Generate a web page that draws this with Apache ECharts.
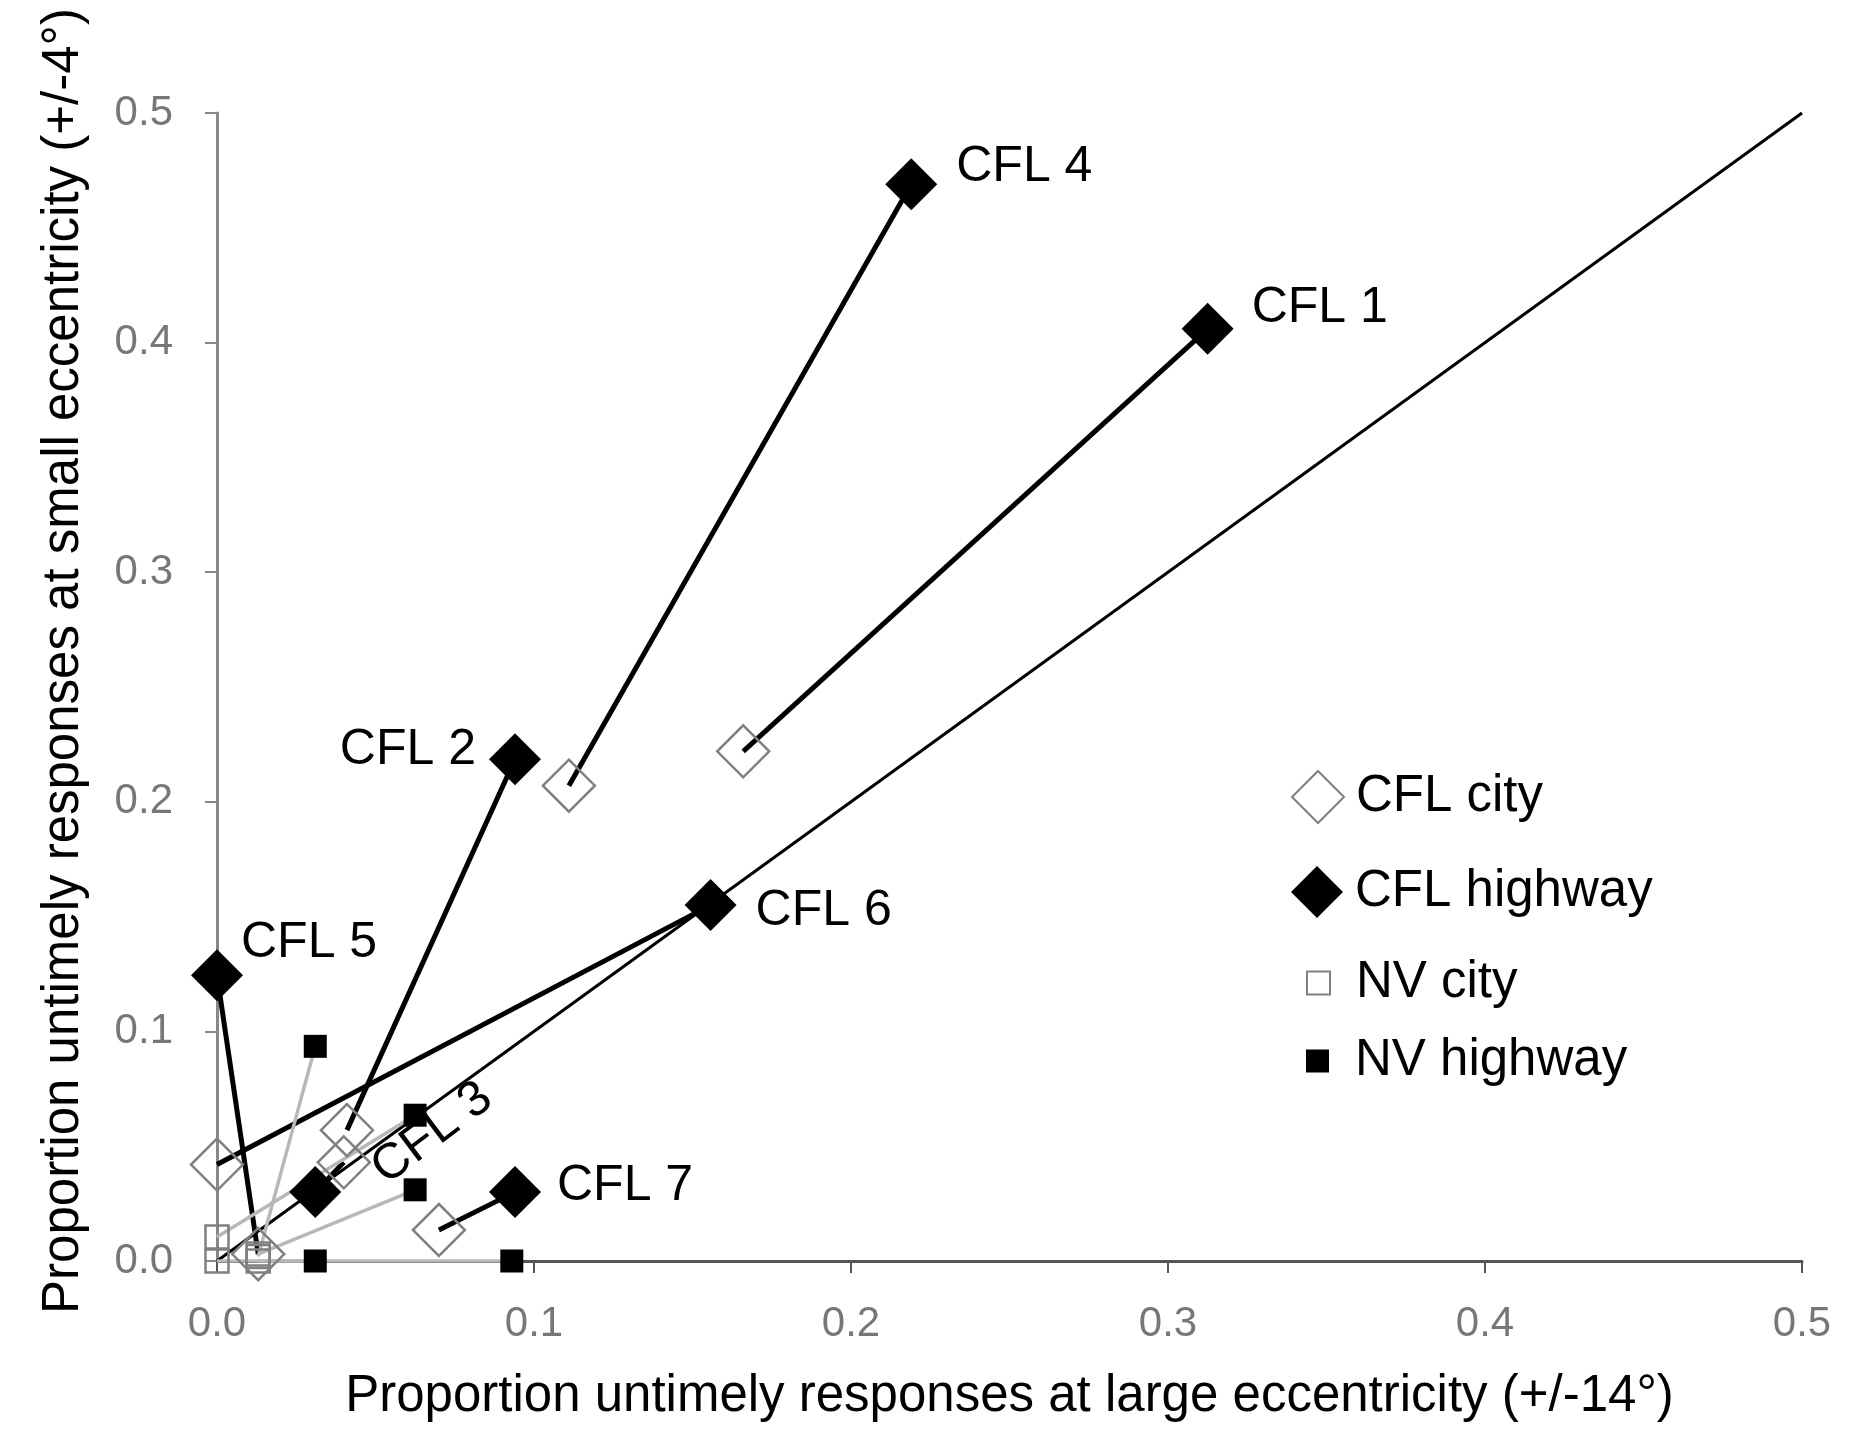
<!DOCTYPE html>
<html>
<head>
<meta charset="utf-8">
<script src="https://cdn.jsdelivr.net/npm/echarts@6/dist/echarts.min.js"></script>
<style>
  html, body { margin: 0; padding: 0; background: #fff; }
  #chart { width: 1860px; height: 1437px; }
</style>
</head>
<body>
<div id="chart"></div>
<script>
// CFL subjects: [large ecc, small ecc] for city and highway drives
const cflNames = ['CFL 1', 'CFL 2', 'CFL 3', 'CFL 4', 'CFL 5', 'CFL 6', 'CFL 7'];
const cflCity = [[0.166, 0.222], [0.041, 0.057], [0.040, 0.043], [0.111, 0.207], [0.013, 0.003], [0.0, 0.042], [0.070, 0.0135]];
const cflHighway = [[0.3125, 0.406], [0.094, 0.2185], [0.031, 0.030], [0.219, 0.469], [0.0, 0.1245], [0.1557, 0.155], [0.094, 0.030]];

// NV (normal vision) subjects
const nvCity = [[0.0, 0.0], [0.013, 0.0], [0.013, 0.002], [0.0, 0.0105], [0.013, 0.003]];
const nvHighway = [[0.093, 0.0], [0.031, 0.0], [0.031, 0.0935], [0.0625, 0.0635], [0.0625, 0.031]];

// identity line and axis ticks
const identity = [[0, 0], [0.5, 0.5]];
const axisMin = 0;
const axisMax = 0.5;
const axisStep = 0.1;

const seriesNames = ['CFL city', 'CFL highway', 'NV city', 'NV highway'];

const chart = echarts.init(document.getElementById('chart'));

const txtFont = 'Liberation Sans, Arial, sans-serif';
const narrowFont = 'Liberation Sans Narrow, Arial Narrow, Liberation Sans, sans-serif';

// where each CFL label sits relative to its highway marker
const labelPlace = {
  'CFL 1': { position: 'right', offset: [18, -21] },
  'CFL 2': { position: 'left', offset: [-13, -9] },
  'CFL 3': { position: 'right', offset: [40, 8], rotate: 37 },
  'CFL 4': { position: 'right', offset: [19, -17] },
  'CFL 5': { position: 'right', offset: [-2, -32] },
  'CFL 6': { position: 'right', offset: [19, 6] },
  'CFL 7': { position: 'right', offset: [16, -6] }
};

const pairLines = [];
cflNames.forEach((name, i) => {
  pairLines.push({
    type: 'line',
    data: [cflCity[i], cflHighway[i]],
    symbol: 'none',
    silent: true,
    z: 2,
    lineStyle: { color: '#000', width: 5 }
  });
});
nvCity.forEach((p, i) => {
  pairLines.push({
    type: 'line',
    data: [p, nvHighway[i]],
    symbol: 'none',
    silent: true,
    z: 2,
    lineStyle: { color: '#b8b8b8', width: 3.5 }
  });
});

const legendTops = [765, 861, 952, 1030];
const legendIcon = [52, 52, 23, 23];
const legends = seriesNames.map((n, i) => ({
  data: [n],
  left: legendIcon[i] > 30 ? 1286 : 1301,
  top: legendTops[i],
  itemWidth: legendIcon[i],
  itemHeight: legendIcon[i],
  selectedMode: false,
  textStyle: {
    fontFamily: txtFont,
    fontSize: 51,
    lineHeight: 52,
    color: '#000',
    padding: [0, 0, 0, legendIcon[i] > 30 ? 7 : 21]
  }
}));

const option = {
  animation: false,
  backgroundColor: '#fff',
  legend: legends,
  grid: { left: 217, right: 58, top: 113, bottom: 176 },
  xAxis: {
    type: 'value',
    min: axisMin,
    max: axisMax,
    interval: axisStep,
    name: 'Proportion untimely responses at large eccentricity (+/-14°)',
    nameLocation: 'middle',
    nameGap: 110,
    nameTextStyle: { fontFamily: narrowFont, fontSize: 51, color: '#000' },
    splitLine: { show: false },
    axisLine: { lineStyle: { color: '#555', width: 3 } },
    axisTick: { show: true, length: 12, lineStyle: { color: '#555', width: 2 } },
    axisLabel: {
      margin: 42,
      fontFamily: narrowFont,
      fontSize: 42,
      color: '#777',
      formatter: v => v.toFixed(1)
    }
  },
  yAxis: {
    type: 'value',
    min: axisMin,
    max: axisMax,
    interval: axisStep,
    name: 'Proportion untimely responses at small eccentricity (+/-4°)',
    nameLocation: 'middle',
    nameGap: 128,
    nameTextStyle: { fontFamily: narrowFont, fontSize: 51, color: '#000', padding: [0, 0, 0, 52] },
    splitLine: { show: false },
    axisLine: { lineStyle: { color: '#888', width: 3 } },
    axisTick: { show: true, length: 12, lineStyle: { color: '#888', width: 2 } },
    axisLabel: {
      margin: 44,
      fontFamily: narrowFont,
      fontSize: 42,
      color: '#777',
      formatter: v => v.toFixed(1)
    }
  },
  series: [
    {
      type: 'line',
      data: identity,
      symbol: 'none',
      silent: true,
      z: 1,
      lineStyle: { color: '#000', width: 3 }
    },
    ...pairLines,
    {
      name: 'CFL city',
      type: 'scatter',
      symbol: 'diamond',
      symbolSize: 52,
      z: 3,
      data: cflCity,
      itemStyle: { color: 'rgba(255,255,255,0)', borderColor: '#808080', borderWidth: 2.5, opacity: 1 }
    },
    {
      name: 'CFL highway',
      type: 'scatter',
      symbol: 'diamond',
      symbolSize: 52,
      z: 4,
      data: cflHighway.map((p, i) => ({
        value: p,
        label: {
          show: true,
          formatter: cflNames[i],
          position: labelPlace[cflNames[i]].position,
          offset: labelPlace[cflNames[i]].offset,
          rotate: labelPlace[cflNames[i]].rotate || 0,
          distance: 0,
          fontFamily: txtFont,
          fontSize: 50,
          color: '#000'
        }
      })),
      itemStyle: { color: '#000', opacity: 1 }
    },
    {
      name: 'NV city',
      type: 'scatter',
      symbol: 'rect',
      symbolSize: 23,
      z: 5,
      data: nvCity,
      itemStyle: { color: 'rgba(255,255,255,0)', borderColor: '#808080', borderWidth: 2.5, opacity: 1 }
    },
    {
      name: 'NV highway',
      type: 'scatter',
      symbol: 'rect',
      symbolSize: 23,
      z: 5,
      data: nvHighway,
      itemStyle: { color: '#000', opacity: 1 }
    }
  ]
};

chart.setOption(option);
</script>
</body>
</html>
